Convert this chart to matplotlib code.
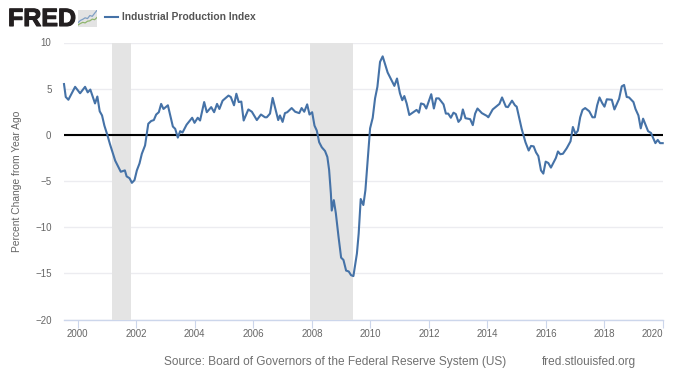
import matplotlib
matplotlib.use('Agg')
import matplotlib.pyplot as plt
import matplotlib.patheffects as pe

plt.rcParams['font.family'] = ['Liberation Sans', 'DejaVu Sans']

# values (decimal year, percent change)
years = [1999.53, 1999.59, 1999.68, 1999.91, 2000.08, 2000.25, 2000.34, 2000.43, 2000.59, 2000.67,
         2000.75, 2000.83, 2000.91, 2001.01, 2001.10, 2001.28, 2001.39, 2001.47, 2001.61, 2001.67,
         2001.77, 2001.85, 2001.94, 2002.02, 2002.11, 2002.19, 2002.30, 2002.41, 2002.51, 2002.60,
         2002.68, 2002.77, 2002.85, 2002.93, 2003.08, 2003.25, 2003.33, 2003.42, 2003.50, 2003.58,
         2003.72, 2003.91, 2003.99, 2004.10, 2004.18, 2004.32, 2004.41, 2004.56, 2004.66, 2004.76,
         2004.84, 2004.95, 2005.15, 2005.23, 2005.34, 2005.42, 2005.50, 2005.59, 2005.67, 2005.83,
         2005.95, 2006.12, 2006.26, 2006.40, 2006.46, 2006.57, 2006.66, 2006.85, 2006.91, 2007.00,
         2007.08, 2007.16, 2007.31, 2007.43, 2007.57, 2007.65, 2007.74, 2007.84, 2007.92, 2008.01,
         2008.09, 2008.17, 2008.25, 2008.34, 2008.45, 2008.53, 2008.59, 2008.65, 2008.68, 2008.75,
         2008.82, 2008.91, 2009.00, 2009.08, 2009.17, 2009.26, 2009.34, 2009.42, 2009.54, 2009.60,
         2009.67, 2009.76, 2009.83, 2009.99, 2010.08, 2010.16, 2010.24, 2010.33, 2010.42, 2010.59,
         2010.82, 2010.91, 2011.01, 2011.09, 2011.16, 2011.24, 2011.33, 2011.58, 2011.66, 2011.73,
         2011.83, 2011.91, 2012.08, 2012.17, 2012.25, 2012.34, 2012.50, 2012.58, 2012.66, 2012.75,
         2012.84, 2012.92, 2013.01, 2013.09, 2013.16, 2013.25, 2013.41, 2013.50, 2013.58, 2013.66,
         2013.81, 2013.98, 2014.03, 2014.18, 2014.41, 2014.50, 2014.63, 2014.70, 2014.84, 2014.94,
         2015.00, 2015.17, 2015.30, 2015.41, 2015.49, 2015.58, 2015.66, 2015.74, 2015.83, 2015.91,
         2015.99, 2016.08, 2016.17, 2016.34, 2016.41, 2016.49, 2016.58, 2016.71, 2016.84, 2016.92,
         2017.01, 2017.09, 2017.17, 2017.25, 2017.34, 2017.48, 2017.59, 2017.67, 2017.75, 2017.83,
         2017.92, 2018.00, 2018.08, 2018.25, 2018.34, 2018.50, 2018.59, 2018.67, 2018.76, 2018.84,
         2018.99, 2019.06, 2019.16, 2019.24, 2019.32, 2019.49, 2019.59, 2019.74, 2019.82, 2019.90,
         2019.99]
pct_change = [5.5, 4.1, 3.8, 5.2, 4.5, 5.2, 4.6, 4.9, 3.4, 4.15,
              2.55, 2.1, 1.0, 0.0, -1.0, -2.8, -3.5, -4.0, -3.85, -4.5,
              -4.7, -5.2, -4.9, -3.85, -3.1, -2.05, -1.15, 1.2, 1.5, 1.6,
              2.2, 2.45, 3.35, 2.8, 3.2, 0.9, 0.65, -0.3, 0.4, 0.25,
              1.1, 1.85, 1.3, 1.85, 1.55, 3.55, 2.45, 3.0, 2.45, 3.35,
              2.8, 3.7, 4.25, 4.1, 3.2, 4.45, 3.55, 3.6, 1.55, 2.75,
              2.5, 1.6, 2.2, 1.9, 1.9, 2.3, 4.0, 1.6, 2.1, 1.4,
              2.35, 2.45, 2.9, 2.5, 2.35, 2.9, 2.5, 3.3, 2.2, 2.45,
              1.0, 0.45, -0.8, -1.35, -1.75, -2.4, -3.8, -6.35, -8.2, -7.07,
              -8.5, -11.0, -13.3, -13.55, -14.7, -14.8, -15.2, -15.3, -12.85, -10.7,
              -6.95, -7.6, -6.0, 0.7, 1.85, 3.95, 5.2, 7.9, 8.5, 6.75,
              5.3, 6.1, 4.5, 3.75, 4.2, 3.4, 2.15, 2.7, 2.4, 3.4,
              3.3, 2.85, 4.4, 2.85, 3.95, 3.95, 3.3, 2.3, 2.3, 1.85,
              2.4, 2.25, 1.4, 1.7, 2.75, 1.8, 1.7, 1.05, 2.3, 2.85,
              2.35, 2.05, 1.9, 2.75, 3.35, 4.05, 3.05, 3.0, 3.7, 3.2,
              3.05, 0.65, -0.8, -1.7, -1.2, -1.25, -1.9, -2.3, -3.85, -4.2,
              -2.9, -3.05, -3.55, -2.5, -1.8, -2.1, -2.05, -1.45, -0.7, 0.85,
              0.1, 0.45, 1.9, 2.7, 2.9, 2.55, 1.9, 1.9, 3.2, 4.05,
              3.45, 3.05, 3.85, 3.8, 2.75, 3.9, 5.25, 5.4, 4.1, 4.05,
              3.55, 2.8, 2.1, 0.7, 1.75, 0.4, 0.2, -0.9, -0.55, -0.9,
              -0.9]

recessions = [(2001.17, 2001.83), (2007.92, 2009.42)]
x_ticks = list(range(2000, 2021, 2))
y_ticks = [-20, -15, -10, -5, 0, 5, 10]

# little chart in the logo
logo_x = [0, 1, 2, 3, 4, 5, 6, 7, 8]
logo_blue = [2.0, 3.2, 3.8, 4.6, 4.2, 5.8, 5.4, 7.0, 8.6]
logo_green = [0.8, 1.6, 2.2, 1.9, 2.8, 3.0, 3.9, 3.6, 4.8]

W, H = 680, 383
fig = plt.figure(figsize=(W / 100, H / 100), dpi=100, facecolor='white')
ax = fig.add_axes([64 / W, 1 - 319.5 / H, (663 - 64) / W, (319.5 - 42.5) / H])

grid_col = '#ececf0'
blue = '#4572a7'
grey = '#666666'

for start, end in recessions:
    ax.axvspan(start, end, color='#e4e4e4', lw=0, zorder=2)
ax.plot(years, pct_change, color=blue, lw=1.5, zorder=4, solid_joinstyle='round', clip_on=False)
ax.axhline(0, color='black', lw=1.5, zorder=3)

ax.set_xlim(1999.53, 2020)
ax.set_ylim(-20, 10)
ax.set_xticks(x_ticks)
ax.set_yticks(y_ticks)
ax.grid(axis='y', color=grid_col, lw=1, zorder=1)
ax.set_axisbelow(True)

for s in ['top', 'left', 'right']:
    ax.spines[s].set_visible(False)
ax.spines['bottom'].set_color('#ccd6eb')
ax.spines['bottom'].set_linewidth(1)
ax.spines['bottom'].set_zorder(1)

ax.tick_params(axis='x', length=6, width=0.8, color='#ccd6eb', labelcolor=grey, labelsize=7, pad=1)
ax.tick_params(axis='y', length=0, labelcolor=grey, labelsize=7, pad=9)
labels = ax.get_xticklabels()
labels[-1].set_ha('right')
labels[-1].set_x(2020)

fig.text(17 / W, 1 - 181 / H, 'Percent Change from Year Ago', rotation=90, color=grey,
         fontsize=7.4, ha='center', va='center')

# header
fig.text(8 / W, 1 - 26 / H, 'FRED', color='#231f20', fontsize=18, fontweight='bold', ha='left', va='baseline',
         path_effects=[pe.withStroke(linewidth=0.8, foreground='#231f20')])
fig.add_artist(plt.Line2D([105 / W, 118 / W], [1 - 16.5 / H] * 2, color=blue, lw=1.5))
fig.text(122 / W, 1 - 16.5 / H, 'Industrial Production Index', color='#555555', fontsize=7.35,
         fontweight='bold', ha='left', va='center')

icon = fig.add_axes([78 / W, 1 - 26.5 / H, 19 / W, 17 / H], facecolor='#e3e3e3')
icon.plot(logo_x, logo_blue, color='#7f9fc4', lw=0.9)
icon.plot(logo_x, logo_green, color='#8fb56d', lw=0.9)
icon.set_xlim(0, 8)
icon.set_ylim(0, 9)
icon.set_xticks([])
icon.set_yticks([])
for s in icon.spines.values():
    s.set_visible(False)

# footer
fig.text(164 / W, 1 - 362 / H, 'Source: Board of Governors of the Federal Reserve System (US)', color='#707070',
         fontsize=8.55, ha='left', va='center')
fig.text(542 / W, 1 - 362 / H, 'fred.stlouisfed.org', color='#707070', fontsize=8.55, ha='left', va='center')

fig.savefig('out.png', dpi=100)
